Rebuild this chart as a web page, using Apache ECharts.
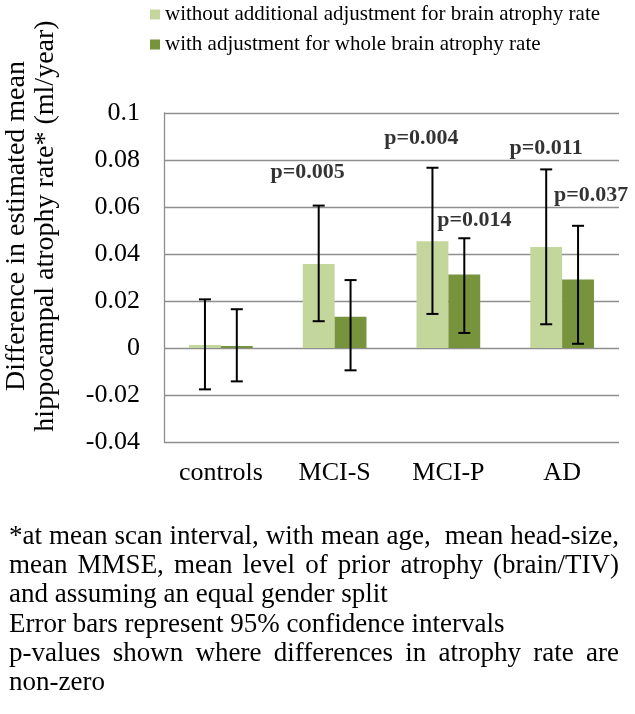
<!DOCTYPE html>
<html>
<head>
<meta charset="utf-8">
<script src="https://cdn.jsdelivr.net/npm/echarts@6/dist/echarts.min.js"></script>
<style>html,body{margin:0;padding:0;background:#fff}#c{width:635px;height:714px}</style>
</head>
<body>
<div id="c"></div>
<script>
// ---- data ----
var categories = ['controls', 'MCI-S', 'MCI-P', 'AD'];
var seriesNames = ['without additional adjustment for brain atrophy rate', 'with adjustment for whole brain atrophy rate'];
var unadjusted = [0.0013, 0.0357, 0.0454, 0.0430];
var unadjustedLow = [-0.0176, 0.0114, 0.0145, 0.0101];
var unadjustedHigh = [0.0207, 0.0606, 0.0767, 0.0760];
var adjusted = [0.0009, 0.0133, 0.0313, 0.0292];
var adjustedLow = [-0.0142, -0.0095, 0.0064, 0.0018];
var adjustedHigh = [0.0165, 0.0289, 0.0467, 0.0520];
var yTicks = { min: -0.04, max: 0.1, interval: 0.02 };
// p-value annotations: category, anchor value (data units), text
var pCats = ['MCI-S', 'MCI-P', 'MCI-P', 'AD', 'AD'];
var pValues = [0.0749, 0.0894, 0.0545, 0.0851, 0.0651];
var pTexts = ['p=0.005', 'p=0.004', 'p=0.014', 'p=0.011', 'p=0.037'];
var yTitle = ['Difference in estimated mean', 'hippocampal atrophy rate* (ml/year)'];
var footLines = [
  '*at mean scan interval, with mean age,  mean head-size,',
  'mean MMSE, mean level of prior atrophy (brain/TIV)',
  'and assuming an equal gender split',
  'Error bars represent 95% confidence intervals',
  'p-values shown where differences in atrophy rate are',
  'non-zero'
];
var footJustify = [true, true, false, false, true, false];

// ---- layout / style ----
var FONT = '"Liberation Serif", "Times New Roman", serif';
var LIGHT = '#c3d69b', DARK = '#77933c';
var BAR_FRAC = 0.28;
var pOffsets = [-27, -27, 26, -16, 29];

var chart = echarts.init(document.getElementById('c'), null, { renderer: 'canvas' });

function errData(lo, hi) {
  return categories.map(function (c, i) { return [i, lo[i], hi[i]]; });
}
function makeErr(lo, hi, side) {
  return {
    type: 'custom',
    z: 5,
    silent: true,
    data: errData(lo, hi),
    encode: { x: 0, y: [1, 2] },
    renderItem: function (params, api) {
      var band = api.size([1, 0])[0];
      var off = side * band * BAR_FRAC / 2;
      var top = api.coord([api.value(0), api.value(2)]);
      var bot = api.coord([api.value(0), api.value(1)]);
      var x = top[0] + off;
      var cap = 6;
      var st = { stroke: '#000', lineWidth: 2 };
      return {
        type: 'group',
        children: [
          { type: 'line', shape: { x1: x, y1: top[1], x2: x, y2: bot[1] }, style: st },
          { type: 'line', shape: { x1: x - cap, y1: top[1], x2: x + cap, y2: top[1] }, style: st },
          { type: 'line', shape: { x1: x - cap, y1: bot[1], x2: x + cap, y2: bot[1] }, style: st }
        ]
      };
    }
  };
}

// footnote graphics (justified lines measured with canvas)
var ctx = document.createElement('canvas').getContext('2d');
var footFont = '27px ' + FONT;
ctx.font = footFont;
var FOOT_LEFT = 9, FOOT_RIGHT = 619, FOOT_TOP = 537, FOOT_LH = 29.2;
var graphics = [];
footLines.forEach(function (line, li) {
  var y = FOOT_TOP + li * FOOT_LH;
  if (footJustify[li]) {
    var words = line.split(' ');
    var widths = words.map(function (w) { return ctx.measureText(w).width; });
    var total = widths.reduce(function (a, b) { return a + b; }, 0);
    var gap = (FOOT_RIGHT - FOOT_LEFT - total) / (words.length - 1);
    var x = FOOT_LEFT;
    words.forEach(function (w, wi) {
      if (w.length) {
        graphics.push({ type: 'text', x: x, y: y, style: { text: w, font: footFont, fill: '#000', textVerticalAlign: 'middle' } });
      }
      x += widths[wi] + gap;
    });
  } else {
    graphics.push({ type: 'text', x: FOOT_LEFT, y: y, style: { text: line, font: footFont, fill: '#000', textVerticalAlign: 'middle' } });
  }
});
// y axis title
graphics.push({
  type: 'text', x: 31, y: 226, rotation: Math.PI / 2,
  style: { text: yTitle.join('\n'), font: '28px ' + FONT, fill: '#000', textAlign: 'center', textVerticalAlign: 'middle', lineHeight: 28.5 }
});

var option = {
  animation: false,
  backgroundColor: '#fff',
  textStyle: { fontFamily: FONT },
  legend: {
    orient: 'vertical', left: 150, top: 4, padding: 0,
    itemWidth: 10, itemHeight: 10, itemGap: 9,
    icon: 'rect',
    data: seriesNames,
    textStyle: { fontFamily: FONT, fontSize: 21, color: '#000', lineHeight: 21 }
  },
  grid: { left: 164, right: 16, top: 113, bottom: 272, containLabel: false },
  xAxis: {
    type: 'category', data: categories,
    axisLine: { show: false }, axisTick: { show: false },
    axisLabel: { fontFamily: FONT, fontSize: 26, color: '#000', margin: 18 }
  },
  yAxis: {
    type: 'value', min: yTicks.min, max: yTicks.max, interval: yTicks.interval,
    axisLine: { show: true, lineStyle: { color: '#8e8e8e', width: 1.3 } },
    axisTick: { show: false },
    splitLine: { lineStyle: { color: '#8e8e8e', width: 1.3 } },
    axisLabel: {
      fontFamily: FONT, fontSize: 26, color: '#000', margin: 24,
      formatter: function (v) { return String(parseFloat(v.toFixed(2))); }
    }
  },
  series: [
    { name: seriesNames[0], type: 'bar', data: unadjusted, barWidth: (BAR_FRAC * 100) + '%', barGap: '0%', itemStyle: { color: LIGHT }, z: 2 },
    { name: seriesNames[1], type: 'bar', data: adjusted, barWidth: (BAR_FRAC * 100) + '%', barGap: '0%', itemStyle: { color: DARK }, z: 2 },
    makeErr(unadjustedLow, unadjustedHigh, -1),
    makeErr(adjustedLow, adjustedHigh, 1),
    {
      type: 'scatter', symbolSize: 0, silent: true, z: 6,
      data: pTexts.map(function (t, i) {
        return {
          value: [categories.indexOf(pCats[i]), pValues[i]],
          label: { show: true, position: 'inside', formatter: t, offset: [pOffsets[i], 0],
            fontFamily: FONT, fontSize: 22, fontWeight: 'bold', color: '#000' }
        };
      })
    }
  ],
  graphic: graphics
};
chart.setOption(option);
</script>
</body>
</html>
